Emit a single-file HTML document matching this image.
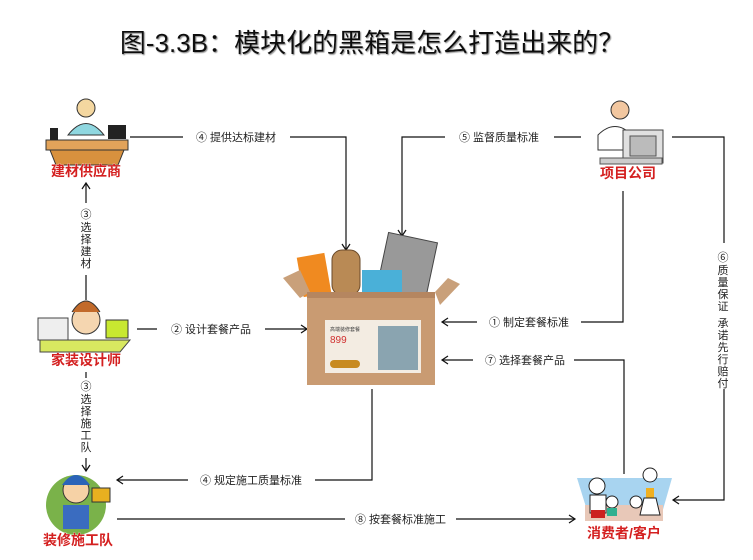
<!DOCTYPE html>
<html><head><meta charset="utf-8"><style>
body{margin:0;width:753px;height:560px;background:#fff;overflow:hidden}
svg{display:block}
.t{font-family:"Liberation Sans","Noto Sans CJK SC",sans-serif;font-size:11px;fill:#222}
.lab{font-family:"Liberation Sans","Noto Sans CJK SC",sans-serif;font-size:14px;font-weight:bold;fill:#d42020;stroke:#fff;stroke-width:0.5;paint-order:stroke}
</style></head><body>
<svg width="753" height="560" viewBox="0 0 753 560">
<defs><filter id="sh"><feDropShadow dx="1" dy="1" stdDeviation="0.6" flood-color="#888"/></filter></defs>
<text x="372" y="52" text-anchor="middle" style="font-family:'Liberation Sans','Noto Sans CJK SC',sans-serif;font-size:26px;fill:#111" filter="url(#sh)">图-3.3B：模块化的黑箱是怎么打造出来的？</text>

<g stroke="#111" stroke-width="1.2" fill="none">
<!-- ④ supply -->
<polyline points="130,137 183,137"/><polyline points="290,137 346,137 346,250"/><polyline points="342,244 346,250 350,244"/>
<!-- ⑤ -->
<polyline points="445,137 402,137 402,236"/><polyline points="398,230 402,236 406,230"/><line x1="554" y1="137" x2="581" y2="137"/>
<!-- ⑥ -->
<polyline points="672,137 724,137 724,243"/><polyline points="724,389 724,500 673,500"/><polyline points="679,496 673,500 679,504"/>
<!-- ① -->
<polyline points="623,191 623,322 581,322"/><line x1="477" y1="322" x2="442" y2="322"/><polyline points="448,318 442,322 448,326"/>
<!-- ⑦ -->
<polyline points="624,474 624,360 574,360"/><line x1="473" y1="360" x2="442" y2="360"/><polyline points="448,356 442,360 448,364"/>
<!-- ② -->
<line x1="137" y1="329" x2="157" y2="329"/><line x1="265" y1="329" x2="307" y2="329"/><polyline points="301,325 307,329 301,333"/>
<!-- ④ construction -->
<polyline points="372,389 372,480 315,480"/><line x1="188" y1="480" x2="117" y2="480"/><polyline points="123,476 117,480 123,484"/>
<!-- ⑧ -->
<line x1="117" y1="519" x2="345" y2="519"/><line x1="456" y1="519" x2="575" y2="519"/><polyline points="569,515 575,519 569,523"/>
<!-- left verticals -->
<line x1="86" y1="183" x2="86" y2="203"/><polyline points="82,189 86,183 90,189"/><line x1="86" y1="275" x2="86" y2="300"/>
<line x1="86" y1="372" x2="86" y2="378"/><line x1="86" y1="458" x2="86" y2="471"/><polyline points="82,465 86,471 90,465"/>
</g>

<text class="t" x="196" y="141">④ 提供达标建材</text>
<text class="t" x="459" y="141">⑤ 监督质量标准</text>
<text class="t" x="489" y="326">① 制定套餐标准</text>
<text class="t" x="485" y="364">⑦ 选择套餐产品</text>
<text class="t" x="171" y="333">② 设计套餐产品</text>
<text class="t" x="200" y="484">④ 规定施工质量标准</text>
<text class="t" x="355" y="523">⑧ 按套餐标准施工</text>
<g class="t" text-anchor="middle">
<text x="86" y="218">③</text><text x="86" y="231">选</text><text x="86" y="243">择</text><text x="86" y="255">建</text><text x="86" y="267">材</text>
<text x="86" y="390">③</text><text x="86" y="403">选</text><text x="86" y="415">择</text><text x="86" y="427">施</text><text x="86" y="439">工</text><text x="86" y="451">队</text>
<text x="723" y="261">⑥</text><text x="723" y="274">质</text><text x="723" y="286">量</text><text x="723" y="298">保</text><text x="723" y="310">证</text><text x="723" y="327">承</text><text x="723" y="339">诺</text><text x="723" y="351">先</text><text x="723" y="363">行</text><text x="723" y="375">赔</text><text x="723" y="387">付</text>
</g>

<!-- supplier -->
<g>
<rect x="46" y="140" width="82" height="10" fill="#e2a35a" stroke="#333"/>
<path d="M50 150 L124 150 L118 165 L56 165Z" fill="#d8913e" stroke="#333"/>
<circle cx="86" cy="108" r="9" fill="#f4d7a0" stroke="#333"/>
<path d="M68 135 Q86 112 104 135Z" fill="#8fd7e0" stroke="#333"/>
<rect x="108" y="125" width="18" height="14" fill="#222"/>
<rect x="50" y="128" width="8" height="12" fill="#222"/>
<text class="lab" x="86" y="176" text-anchor="middle">建材供应商</text>
</g>
<!-- designer -->
<g>
<rect x="38" y="318" width="30" height="22" fill="#eee" stroke="#444"/>
<rect x="106" y="320" width="22" height="18" fill="#c8e830" stroke="#333"/>
<path d="M40 340 L130 340 L120 352 L40 352Z" fill="#d8e860" stroke="#444"/>
<circle cx="86" cy="320" r="14" fill="#f5d6b0" stroke="#333"/>
<path d="M72 312 Q86 290 100 312" fill="#c26a2a" stroke="#333"/>
<text class="lab" x="86" y="365" text-anchor="middle">家装设计师</text>
</g>
<!-- worker -->
<g>
<circle cx="76" cy="505" r="30" fill="#7ab24a"/>
<circle cx="76" cy="490" r="13" fill="#f6d2a6" stroke="#333"/>
<path d="M62 485 Q76 465 90 485Z" fill="#2a64b8"/>
<rect x="92" y="488" width="18" height="14" fill="#e8b020" stroke="#333"/>
<rect x="63" y="505" width="26" height="24" fill="#3a6cc0"/>
<text class="lab" x="78" y="545" text-anchor="middle">装修施工队</text>
</g>
<!-- project company -->
<g>
<circle cx="620" cy="110" r="9" fill="#f2c7a0" stroke="#333"/>
<path d="M598 135 Q615 118 632 135 L632 150 L598 150Z" fill="#fff" stroke="#333"/>
<rect x="623" y="130" width="40" height="33" fill="#e0e0e0" stroke="#444"/>
<rect x="630" y="136" width="26" height="20" fill="#bbb" stroke="#555"/>
<rect x="600" y="158" width="62" height="6" fill="#ccc" stroke="#555"/>
<text class="lab" x="628" y="178" text-anchor="middle">项目公司</text>
</g>
<!-- consumers -->
<g>
<path d="M577 478 L672 478 L660 520 L590 520Z" fill="#a8d4f0"/>
<rect x="585" y="505" width="78" height="16" fill="#e8c8b8"/>
<circle cx="597" cy="486" r="8" fill="#fff" stroke="#222"/>
<rect x="590" y="495" width="16" height="18" fill="#fff" stroke="#222"/>
<rect x="591" y="510" width="14" height="8" fill="#cc2020"/>
<circle cx="612" cy="502" r="6" fill="#fff" stroke="#222"/><rect x="607" y="508" width="10" height="8" fill="#30b090"/>
<circle cx="636" cy="502" r="6" fill="#fff" stroke="#222"/>
<circle cx="650" cy="475" r="7" fill="#fff" stroke="#222"/><rect x="646" y="488" width="8" height="10" fill="#f0b020"/><path d="M644 498 L656 498 L660 515 L640 515Z" fill="#fff" stroke="#222"/>
<text class="lab" x="624" y="538" text-anchor="middle">消费者/客户</text>
</g>
<!-- box -->
<g>
<rect x="300" y="255" width="28" height="40" fill="#f08a20" transform="rotate(-10 314 275)"/>
<rect x="332" y="250" width="28" height="45" rx="10" fill="#b98a55" stroke="#6a4a2a"/>
<rect x="382" y="237" width="50" height="58" fill="#999" stroke="#444" transform="rotate(12 407 266)"/>
<rect x="362" y="270" width="40" height="25" fill="#4ab0d8"/>
<path d="M283 278 L300 270 L310 292 L300 298Z" fill="#c9a07a"/>
<path d="M435 292 L448 278 L460 284 L440 305Z" fill="#c9a07a"/>
<rect x="307" y="292" width="128" height="93" fill="#c99b72"/>
<rect x="307" y="292" width="128" height="6" fill="#b58660"/>
<rect x="325" y="320" width="96" height="53" fill="#f3ece2"/>
<text x="330" y="331" style="font-family:'Liberation Sans','Noto Sans CJK SC',sans-serif;font-size:5px;fill:#444">高端装修套餐</text>
<text x="330" y="343" style="font-family:'Liberation Sans',sans-serif;font-size:10px;fill:#d03030">899</text>
<rect x="330" y="360" width="30" height="8" rx="4" fill="#c88a20"/>
<rect x="378" y="326" width="40" height="44" fill="#8aa4b0"/>
</g>
</svg>
</body></html>
